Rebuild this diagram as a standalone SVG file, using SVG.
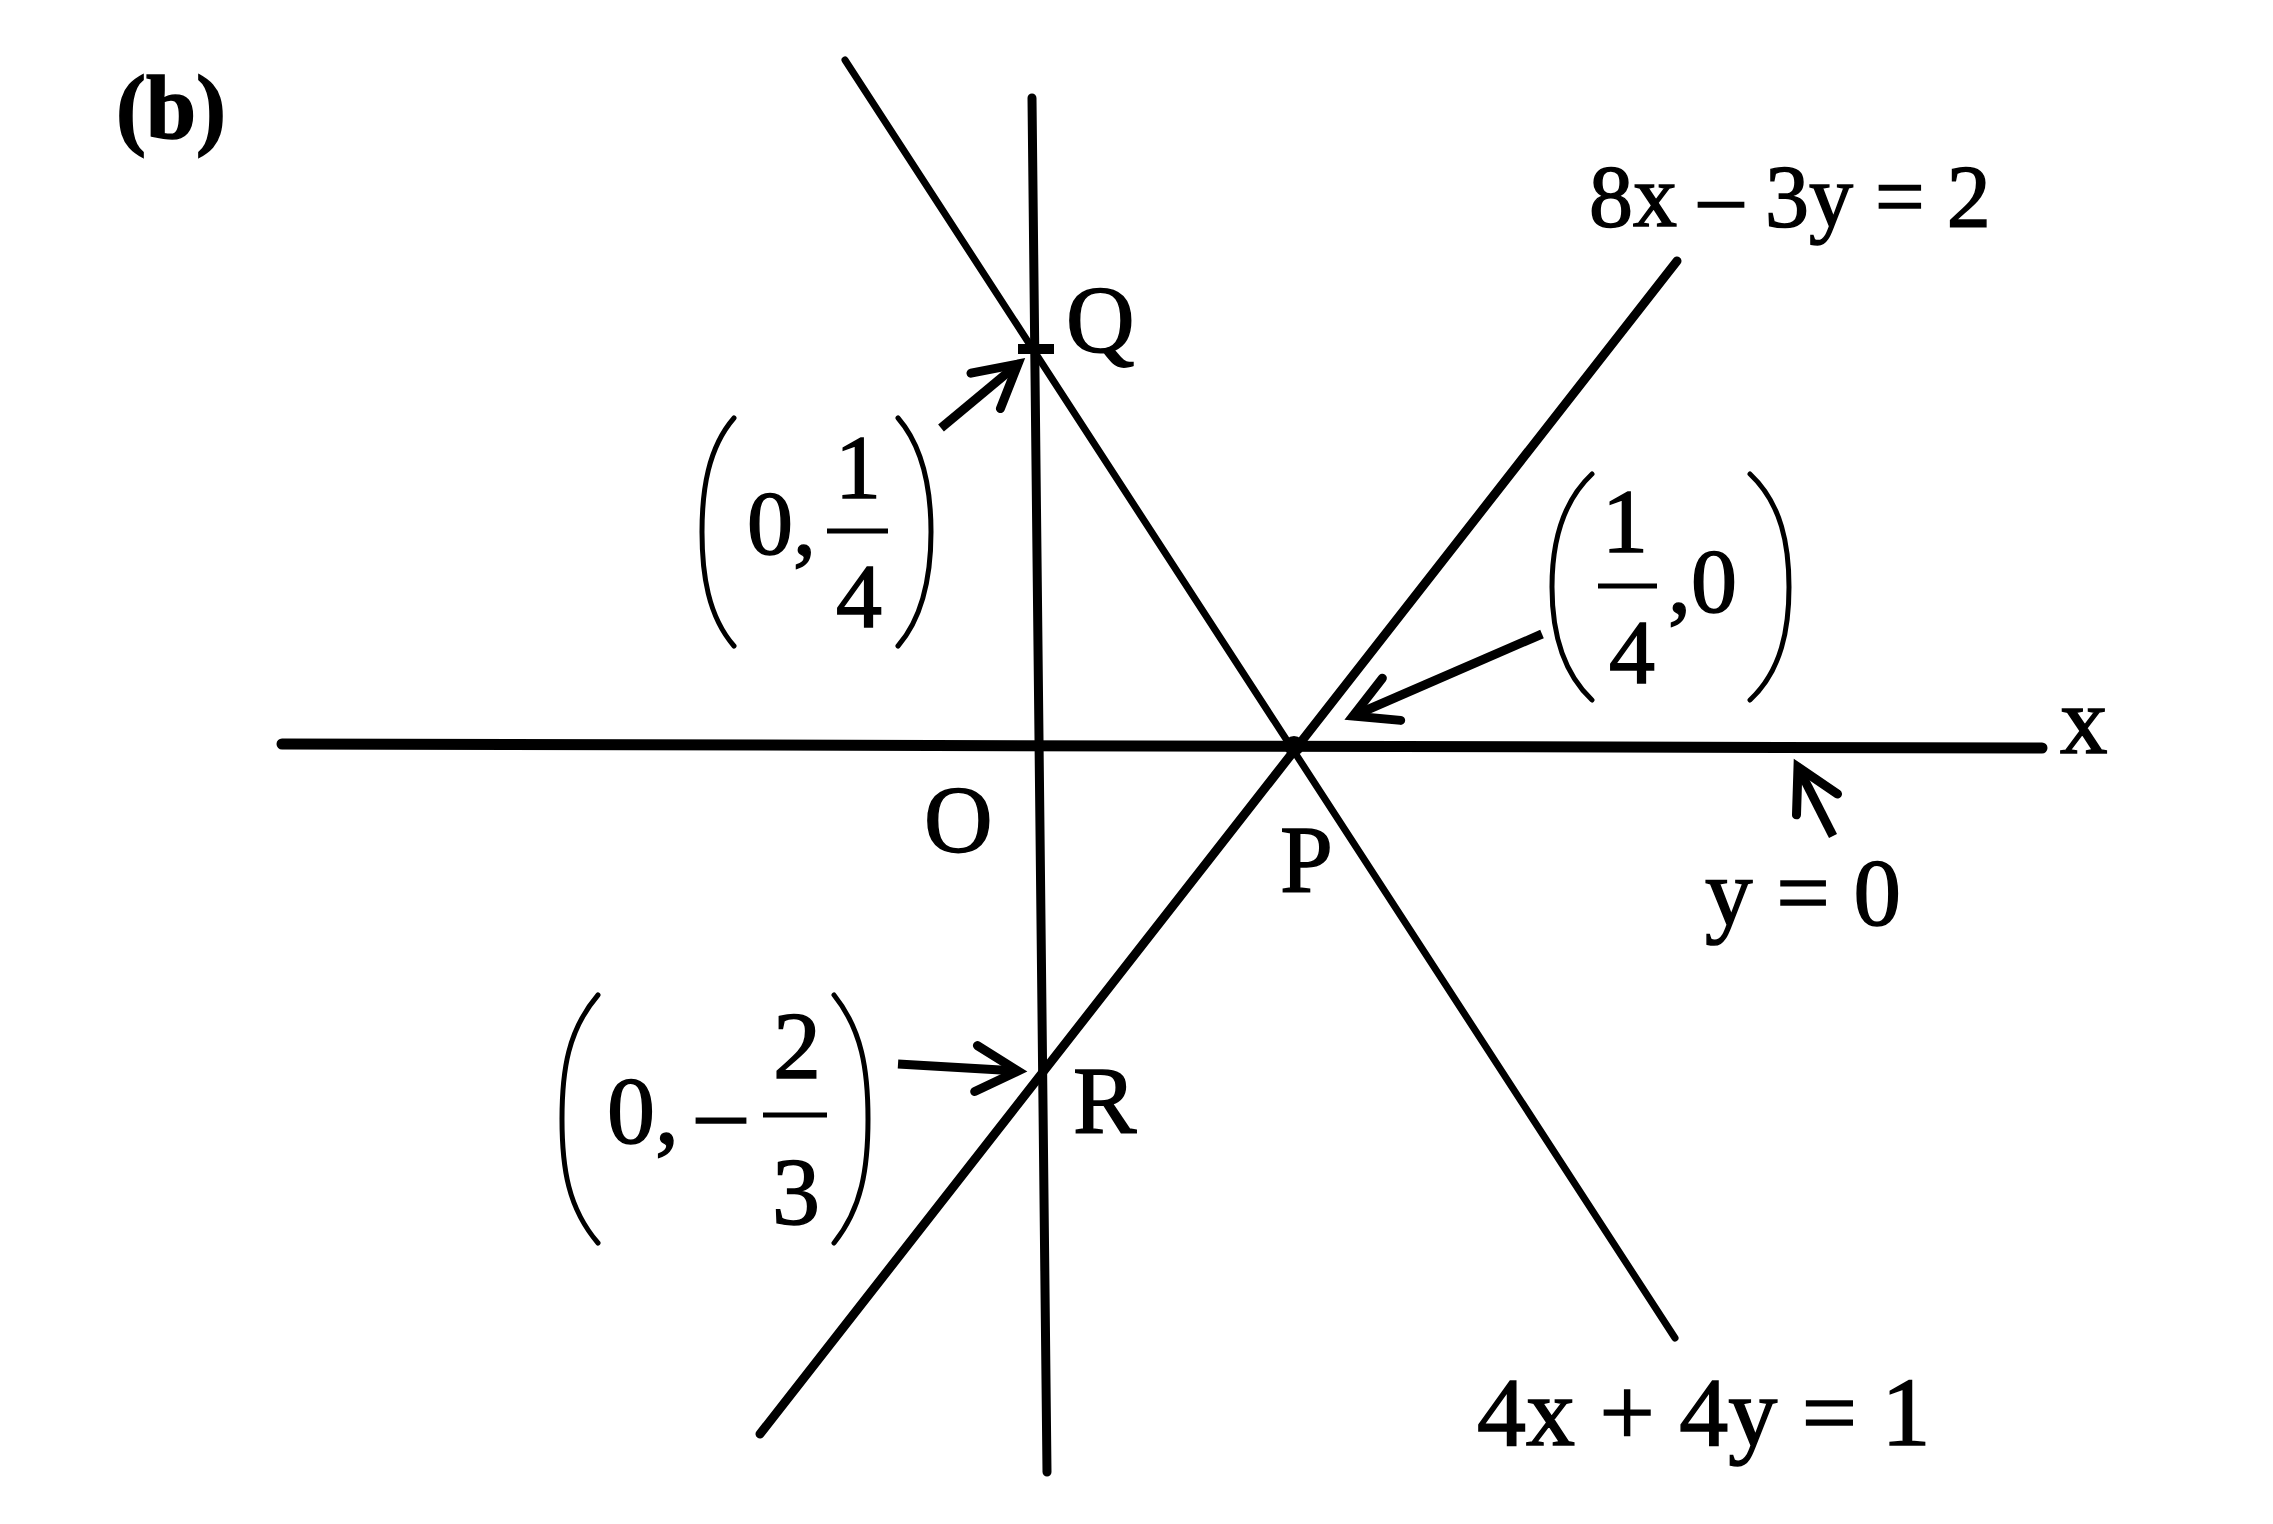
<svg xmlns="http://www.w3.org/2000/svg" width="2273" height="1524" viewBox="0 0 2273 1524">
<style>
text{font-family:"Liberation Serif","Times New Roman",serif;fill:#000;stroke:#000;stroke-width:1.5}
.lbl{font-size:95px}
.fr{font-size:92px}
.ln{stroke:#000;fill:none;stroke-linecap:round}
.par{stroke:#000;fill:none;stroke-width:5;stroke-linecap:round}
.bar{stroke:#000;stroke-width:5}
.arr{stroke:#000;stroke-width:9;fill:none;marker-end:url(#ah)}
</style>
<defs>
<marker id="ah" markerUnits="userSpaceOnUse" orient="auto" refX="0" refY="0" markerWidth="60" markerHeight="60" overflow="visible">
<path d="M -42 -23 L 0 0 L -42 23" stroke="#000" stroke-width="9" fill="none" stroke-linejoin="miter" stroke-linecap="round"/>
</marker>
</defs>
<rect width="2273" height="1524" fill="#fff"/>
<text x="116" y="138" font-size="90" font-weight="bold" stroke-width="0">(b)</text>
<g id="lines">
<line class="ln" x1="282" y1="744" x2="2042" y2="748" stroke-width="11"/>
<line class="ln" x1="1032" y1="98" x2="1047" y2="1472" stroke-width="9"/>
<line class="ln" x1="845" y1="60" x2="1675" y2="1338" stroke-width="7"/>
<line class="ln" x1="1677" y1="261" x2="760" y2="1434" stroke-width="9"/>
</g>
<g id="point-Q">
<line x1="1018" y1="349" x2="1054" y2="349" stroke="#000" stroke-width="10"/>
<text class="lbl" x="1066" y="352">Q</text>
</g>
<g id="point-P">
<circle cx="1294" cy="746" r="10" fill="#000"/>
<text class="lbl" x="1280" y="892">P</text>
</g>
<g id="point-R">
<text class="lbl" x="1073" y="1133">R</text>
</g>
<g id="point-O">
<text class="lbl" x="924" y="852">O</text>
</g>
<g id="label-x">
<text class="lbl" x="2060" y="753">x</text>
</g>
<g id="label-eq1">
<text x="1589" y="226" font-size="88">8x – 3y = 2</text>
</g>
<g id="label-eq2">
<text x="1477" y="1445" font-size="98">4x + 4y = 1</text>
</g>
<g id="label-y0">
<text x="1705" y="925" font-size="95">y = 0</text>
</g>
<g id="label-Q-coord">
<path class="par" d="M 734 418 C 708 448 702 490 702 532 C 702 574 708 616 734 646"/>
<path class="par" d="M 898 418 C 924 448 931 490 931 532 C 931 574 924 616 898 646"/>
<text class="fr" x="747" y="554">0,</text>
<text class="fr" x="858" y="498" text-anchor="middle">1</text>
<line class="bar" x1="827" y1="531" x2="888" y2="531"/>
<text class="fr" x="859" y="627" text-anchor="middle">4</text>
</g>
<g id="label-P-coord">
<path class="par" d="M 1592 474 C 1560 504 1552 546 1552 587 C 1552 628 1560 670 1592 700"/>
<path class="par" d="M 1750 474 C 1782 504 1789 546 1789 587 C 1789 628 1782 670 1750 700"/>
<text class="fr" x="1625" y="552" text-anchor="middle">1</text>
<line class="bar" x1="1598" y1="586" x2="1657" y2="586"/>
<text class="fr" x="1632" y="683" text-anchor="middle">4</text>
<text class="fr" x="1668" y="612">,0</text>
</g>
<g id="label-R-coord">
<path class="par" d="M 598 995 C 568 1030 562 1070 562 1119 C 562 1168 568 1208 598 1243"/>
<path class="par" d="M 834 995 C 862 1030 868 1070 868 1119 C 868 1168 862 1208 834 1243"/>
<text x="607" y="1143" font-size="96">0,</text>
<text x="697" y="1143" font-size="96">–</text>
<text x="797" y="1078" font-size="96" text-anchor="middle">2</text>
<line class="bar" x1="763" y1="1115" x2="827" y2="1115"/>
<text x="796" y="1224" font-size="96" text-anchor="middle">3</text>
</g>
<g id="connectors">
<line class="arr" x1="941" y1="428" x2="1018" y2="364"/>
<line class="arr" x1="1542" y1="634" x2="1353" y2="716"/>
<line class="arr" x1="898" y1="1064" x2="1018" y2="1071"/>
<line class="arr" x1="1833" y1="836" x2="1798" y2="767"/>
</g>
</svg>
